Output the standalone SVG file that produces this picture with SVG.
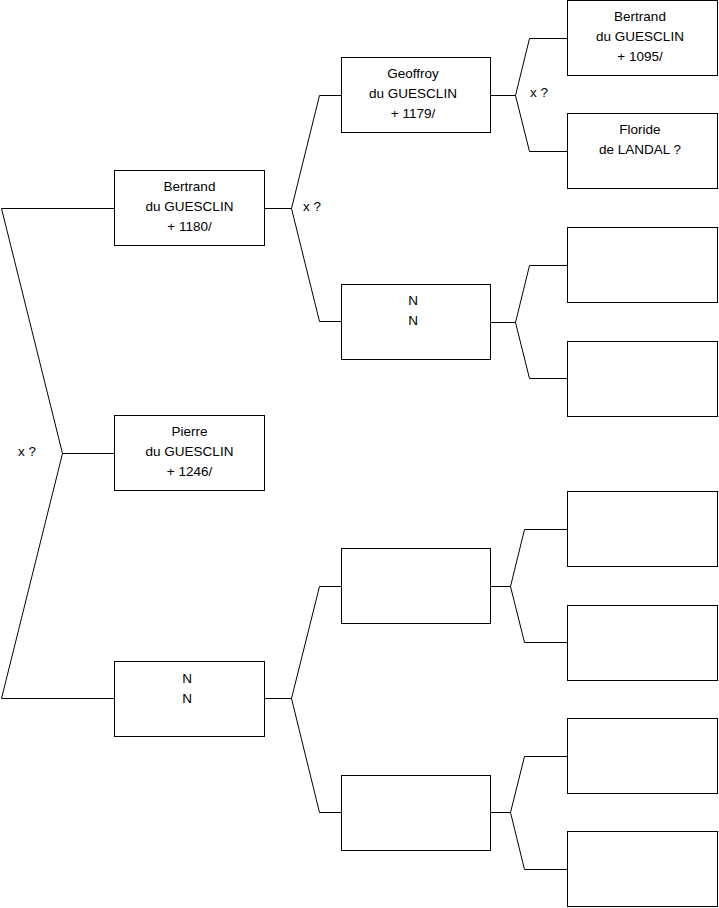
<svg xmlns="http://www.w3.org/2000/svg" width="719" height="908" viewBox="0 0 719 908">
<style>
.box{fill:#fff;stroke:#000;stroke-width:1}
.c{fill:none;stroke:#000;stroke-width:1}
text{font-family:"Liberation Sans",Arial,sans-serif;font-size:13.5px;fill:#000}
.m{text-anchor:middle}
</style>
<rect width="719" height="908" fill="#fff"/>
<g id="connectors">
<polyline class="c" points="114,208.5 1.5,208.5 62.5,453.5 1.5,698.5 114,698.5"/>
<line class="c" x1="62.5" y1="453.5" x2="114" y2="453.5"/>
<polyline class="c" points="265,208.5 291.5,208.5"/>
<polyline class="c" points="341,95.5 319.5,95.5 291.5,208.5 319.5,321.5 341,321.5"/>
<polyline class="c" points="265,698.5 291.5,698.5"/>
<polyline class="c" points="341,586.5 319.5,586.5 291.5,698.5 319.5,812.5 341,812.5"/>
<polyline class="c" points="491,95.5 515.5,95.5"/>
<polyline class="c" points="567,38.5 529.5,38.5 515.5,95.5 529.5,151.5 567,151.5"/>
<polyline class="c" points="491,322.5 515.5,322.5"/>
<polyline class="c" points="567,265.5 529.5,265.5 515.5,322.5 529.5,378.5 567,378.5"/>
<polyline class="c" points="491,586.5 510.5,586.5"/>
<polyline class="c" points="567,529.5 524.5,529.5 510.5,586.5 524.5,642.5 567,642.5"/>
<polyline class="c" points="491,812.5 510.5,812.5"/>
<polyline class="c" points="567,756.5 524.5,756.5 510.5,812.5 524.5,869.5 567,869.5"/>
<text x="18" y="456">x ?</text>
<text x="303" y="211">x ?</text>
<text x="530" y="97">x ?</text>
</g>
<g id="n_bertrand1180"><rect class="box" x="114.5" y="170.5" width="150" height="75"/>
<text class="m" x="189.5" y="191">Bertrand</text><text class="m" x="189.5" y="211">du GUESCLIN</text><text class="m" x="189.5" y="231">+ 1180/</text></g>
<g id="n_pierre"><rect class="box" x="114.5" y="415.5" width="150" height="75"/>
<text class="m" x="189.5" y="436">Pierre</text><text class="m" x="189.5" y="456">du GUESCLIN</text><text class="m" x="189.5" y="476">+ 1246/</text></g>
<g id="n_nn1"><rect class="box" x="114.5" y="661.5" width="150" height="75"/>
<text class="m" x="187" y="683">N</text><text class="m" x="187" y="703">N</text></g>
<g id="n_geoffroy"><rect class="box" x="341.5" y="57.5" width="149" height="75"/>
<text class="m" x="413" y="78">Geoffroy</text><text class="m" x="413" y="98">du GUESCLIN</text><text class="m" x="413" y="118">+ 1179/</text></g>
<g id="n_nn2"><rect class="box" x="341.5" y="284.5" width="149" height="75"/>
<text class="m" x="413" y="305">N</text><text class="m" x="413" y="325">N</text></g>
<g id="n_e1"><rect class="box" x="341.5" y="548.5" width="149" height="75"/></g>
<g id="n_e2"><rect class="box" x="341.5" y="775.5" width="149" height="75"/></g>
<g id="n_bertrand1095"><rect class="box" x="567.5" y="0.5" width="150" height="75"/>
<text class="m" x="640" y="21">Bertrand</text><text class="m" x="640" y="41">du GUESCLIN</text><text class="m" x="640" y="61">+ 1095/</text></g>
<g id="n_floride"><rect class="box" x="567.5" y="113.5" width="150" height="75"/>
<text class="m" x="640" y="134">Floride</text><text class="m" x="640" y="154">de LANDAL ?</text></g>
<g id="n_e3"><rect class="box" x="567.5" y="227.5" width="150" height="75"/></g>
<g id="n_e4"><rect class="box" x="567.5" y="341.5" width="150" height="75"/></g>
<g id="n_e5"><rect class="box" x="567.5" y="491.5" width="150" height="75"/></g>
<g id="n_e6"><rect class="box" x="567.5" y="605.5" width="150" height="75"/></g>
<g id="n_e7"><rect class="box" x="567.5" y="718.5" width="150" height="75"/></g>
<g id="n_e8"><rect class="box" x="567.5" y="831.5" width="150" height="75"/></g>
</svg>
